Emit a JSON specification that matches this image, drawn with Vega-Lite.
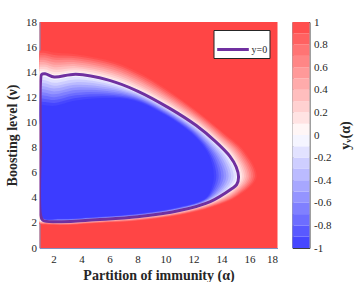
{
 "$schema": "https://vega.github.io/schema/vega-lite/v6.json",
 "background": "white",
 "padding": {"left": 5.5, "top": 15, "right": 5, "bottom": 5},
 "autosize": {"type": "pad"},
 "config": {
  "font": "Liberation Serif",
  "view": {"stroke": null},
  "axis": {"labelFont": "Liberation Serif", "labelFontSize": 11, "labelColor": "#262626", "titleFont": "Liberation Serif", "titleFontSize": 14, "titleFontWeight": "bold", "titleColor": "#262626", "grid": false, "ticks": false, "domainColor": "#8090c0"},
  "legend": {"labelFont": "Liberation Serif", "titleFont": "Liberation Serif"}
 },
 "spacing": 14,
 "resolve": {"scale": {"stroke": "independent"}, "legend": {"stroke": "independent"}},
 "datasets": {
  "poly": [
   {"g":"o10","lev":0.95,"i":0,"a":0.8,"n":1.9},{"g":"o10","lev":0.95,"i":1,"a":2.5,"n":1.82},{"g":"o10","lev":0.95,"i":2,"a":5,"n":1.97},{"g":"o10","lev":0.95,"i":3,"a":8,"n":2.18},{"g":"o10","lev":0.95,"i":4,"a":11.08,"n":2.63},{"g":"o10","lev":0.95,"i":5,"a":13.38,"n":3.27},{"g":"o10","lev":0.95,"i":6,"a":15.2,"n":4.14},{"g":"o10","lev":0.95,"i":7,"a":16.51,"n":5.65},{"g":"o10","lev":0.95,"i":8,"a":15.58,"n":7.79},{"g":"o10","lev":0.95,"i":9,"a":14.23,"n":9.1},{"g":"o10","lev":0.95,"i":10,"a":12.7,"n":10.52},{"g":"o10","lev":0.95,"i":11,"a":10.8,"n":12.09},{"g":"o10","lev":0.95,"i":12,"a":8.51,"n":13.73},{"g":"o10","lev":0.95,"i":13,"a":6.39,"n":14.8},{"g":"o10","lev":0.95,"i":14,"a":3.6,"n":15.44},{"g":"o10","lev":0.95,"i":15,"a":2.05,"n":15.57},{"g":"o10","lev":0.95,"i":16,"a":1.4,"n":15.72},{"g":"o10","lev":0.95,"i":17,"a":0.8,"n":15.72},
   {"g":"o9","lev":0.85,"i":0,"a":0.8,"n":1.93},{"g":"o9","lev":0.85,"i":1,"a":2.5,"n":1.85},{"g":"o9","lev":0.85,"i":2,"a":5,"n":2.0},{"g":"o9","lev":0.85,"i":3,"a":8,"n":2.21},{"g":"o9","lev":0.85,"i":4,"a":11.07,"n":2.67},{"g":"o9","lev":0.85,"i":5,"a":13.36,"n":3.32},{"g":"o9","lev":0.85,"i":6,"a":15.15,"n":4.2},{"g":"o9","lev":0.85,"i":7,"a":16.38,"n":5.65},{"g":"o9","lev":0.85,"i":8,"a":15.48,"n":7.74},{"g":"o9","lev":0.85,"i":9,"a":14.17,"n":9.04},{"g":"o9","lev":0.85,"i":10,"a":12.65,"n":10.45},{"g":"o9","lev":0.85,"i":11,"a":10.75,"n":12.0},{"g":"o9","lev":0.85,"i":12,"a":8.46,"n":13.61},{"g":"o9","lev":0.85,"i":13,"a":6.35,"n":14.66},{"g":"o9","lev":0.85,"i":14,"a":3.6,"n":15.28},{"g":"o9","lev":0.85,"i":15,"a":2.05,"n":15.38},{"g":"o9","lev":0.85,"i":16,"a":1.4,"n":15.54},{"g":"o9","lev":0.85,"i":17,"a":0.8,"n":15.54},
   {"g":"o8","lev":0.75,"i":0,"a":0.8,"n":1.96},{"g":"o8","lev":0.75,"i":1,"a":2.5,"n":1.88},{"g":"o8","lev":0.75,"i":2,"a":5,"n":2.03},{"g":"o8","lev":0.75,"i":3,"a":8,"n":2.24},{"g":"o8","lev":0.75,"i":4,"a":11.06,"n":2.7},{"g":"o8","lev":0.75,"i":5,"a":13.34,"n":3.36},{"g":"o8","lev":0.75,"i":6,"a":15.1,"n":4.25},{"g":"o8","lev":0.75,"i":7,"a":16.25,"n":5.65},{"g":"o8","lev":0.75,"i":8,"a":15.38,"n":7.69},{"g":"o8","lev":0.75,"i":9,"a":14.1,"n":8.97},{"g":"o8","lev":0.75,"i":10,"a":12.6,"n":10.37},{"g":"o8","lev":0.75,"i":11,"a":10.7,"n":11.9},{"g":"o8","lev":0.75,"i":12,"a":8.41,"n":13.48},{"g":"o8","lev":0.75,"i":13,"a":6.31,"n":14.51},{"g":"o8","lev":0.75,"i":14,"a":3.6,"n":15.12},{"g":"o8","lev":0.75,"i":15,"a":2.05,"n":15.18},{"g":"o8","lev":0.75,"i":16,"a":1.4,"n":15.35},{"g":"o8","lev":0.75,"i":17,"a":0.8,"n":15.35},
   {"g":"o7","lev":0.65,"i":0,"a":0.8,"n":1.99},{"g":"o7","lev":0.65,"i":1,"a":2.5,"n":1.91},{"g":"o7","lev":0.65,"i":2,"a":5,"n":2.06},{"g":"o7","lev":0.65,"i":3,"a":8,"n":2.27},{"g":"o7","lev":0.65,"i":4,"a":11.06,"n":2.74},{"g":"o7","lev":0.65,"i":5,"a":13.33,"n":3.4},{"g":"o7","lev":0.65,"i":6,"a":15.05,"n":4.31},{"g":"o7","lev":0.65,"i":7,"a":16.12,"n":5.65},{"g":"o7","lev":0.65,"i":8,"a":15.29,"n":7.64},{"g":"o7","lev":0.65,"i":9,"a":14.04,"n":8.91},{"g":"o7","lev":0.65,"i":10,"a":12.55,"n":10.29},{"g":"o7","lev":0.65,"i":11,"a":10.65,"n":11.8},{"g":"o7","lev":0.65,"i":12,"a":8.36,"n":13.36},{"g":"o7","lev":0.65,"i":13,"a":6.27,"n":14.37},{"g":"o7","lev":0.65,"i":14,"a":3.6,"n":14.96},{"g":"o7","lev":0.65,"i":15,"a":2.05,"n":14.99},{"g":"o7","lev":0.65,"i":16,"a":1.4,"n":15.17},{"g":"o7","lev":0.65,"i":17,"a":0.8,"n":15.17},
   {"g":"o6","lev":0.55,"i":0,"a":0.8,"n":2.02},{"g":"o6","lev":0.55,"i":1,"a":2.5,"n":1.93},{"g":"o6","lev":0.55,"i":2,"a":5,"n":2.08},{"g":"o6","lev":0.55,"i":3,"a":8,"n":2.3},{"g":"o6","lev":0.55,"i":4,"a":11.05,"n":2.77},{"g":"o6","lev":0.55,"i":5,"a":13.31,"n":3.44},{"g":"o6","lev":0.55,"i":6,"a":15.0,"n":4.36},{"g":"o6","lev":0.55,"i":7,"a":15.99,"n":5.65},{"g":"o6","lev":0.55,"i":8,"a":15.19,"n":7.59},{"g":"o6","lev":0.55,"i":9,"a":13.98,"n":8.84},{"g":"o6","lev":0.55,"i":10,"a":12.5,"n":10.21},{"g":"o6","lev":0.55,"i":11,"a":10.6,"n":11.7},{"g":"o6","lev":0.55,"i":12,"a":8.31,"n":13.24},{"g":"o6","lev":0.55,"i":13,"a":6.23,"n":14.22},{"g":"o6","lev":0.55,"i":14,"a":3.6,"n":14.8},{"g":"o6","lev":0.55,"i":15,"a":2.05,"n":14.79},{"g":"o6","lev":0.55,"i":16,"a":1.4,"n":14.98},{"g":"o6","lev":0.55,"i":17,"a":0.8,"n":14.98},
   {"g":"o5","lev":0.45,"i":0,"a":0.8,"n":2.05},{"g":"o5","lev":0.45,"i":1,"a":2.5,"n":1.96},{"g":"o5","lev":0.45,"i":2,"a":5,"n":2.11},{"g":"o5","lev":0.45,"i":3,"a":8,"n":2.33},{"g":"o5","lev":0.45,"i":4,"a":11.04,"n":2.81},{"g":"o5","lev":0.45,"i":5,"a":13.29,"n":3.49},{"g":"o5","lev":0.45,"i":6,"a":14.95,"n":4.42},{"g":"o5","lev":0.45,"i":7,"a":15.87,"n":5.65},{"g":"o5","lev":0.45,"i":8,"a":15.09,"n":7.55},{"g":"o5","lev":0.45,"i":9,"a":13.92,"n":8.78},{"g":"o5","lev":0.45,"i":10,"a":12.45,"n":10.14},{"g":"o5","lev":0.45,"i":11,"a":10.55,"n":11.61},{"g":"o5","lev":0.45,"i":12,"a":8.26,"n":13.12},{"g":"o5","lev":0.45,"i":13,"a":6.2,"n":14.08},{"g":"o5","lev":0.45,"i":14,"a":3.6,"n":14.64},{"g":"o5","lev":0.45,"i":15,"a":2.05,"n":14.6},{"g":"o5","lev":0.45,"i":16,"a":1.4,"n":14.8},{"g":"o5","lev":0.45,"i":17,"a":0.8,"n":14.8},
   {"g":"o4","lev":0.35,"i":0,"a":0.8,"n":2.08},{"g":"o4","lev":0.35,"i":1,"a":2.5,"n":1.99},{"g":"o4","lev":0.35,"i":2,"a":5,"n":2.14},{"g":"o4","lev":0.35,"i":3,"a":8,"n":2.36},{"g":"o4","lev":0.35,"i":4,"a":11.03,"n":2.84},{"g":"o4","lev":0.35,"i":5,"a":13.27,"n":3.53},{"g":"o4","lev":0.35,"i":6,"a":14.9,"n":4.48},{"g":"o4","lev":0.35,"i":7,"a":15.74,"n":5.65},{"g":"o4","lev":0.35,"i":8,"a":14.99,"n":7.5},{"g":"o4","lev":0.35,"i":9,"a":13.85,"n":8.71},{"g":"o4","lev":0.35,"i":10,"a":12.4,"n":10.06},{"g":"o4","lev":0.35,"i":11,"a":10.5,"n":11.51},{"g":"o4","lev":0.35,"i":12,"a":8.2,"n":12.99},{"g":"o4","lev":0.35,"i":13,"a":6.16,"n":13.93},{"g":"o4","lev":0.35,"i":14,"a":3.6,"n":14.48},{"g":"o4","lev":0.35,"i":15,"a":2.05,"n":14.4},{"g":"o4","lev":0.35,"i":16,"a":1.4,"n":14.61},{"g":"o4","lev":0.35,"i":17,"a":0.8,"n":14.61},
   {"g":"o3","lev":0.25,"i":0,"a":0.8,"n":2.11},{"g":"o3","lev":0.25,"i":1,"a":2.5,"n":2.02},{"g":"o3","lev":0.25,"i":2,"a":5,"n":2.17},{"g":"o3","lev":0.25,"i":3,"a":8,"n":2.39},{"g":"o3","lev":0.25,"i":4,"a":11.03,"n":2.88},{"g":"o3","lev":0.25,"i":5,"a":13.26,"n":3.57},{"g":"o3","lev":0.25,"i":6,"a":14.85,"n":4.54},{"g":"o3","lev":0.25,"i":7,"a":15.61,"n":5.65},{"g":"o3","lev":0.25,"i":8,"a":14.9,"n":7.45},{"g":"o3","lev":0.25,"i":9,"a":13.79,"n":8.65},{"g":"o3","lev":0.25,"i":10,"a":12.35,"n":9.98},{"g":"o3","lev":0.25,"i":11,"a":10.45,"n":11.41},{"g":"o3","lev":0.25,"i":12,"a":8.15,"n":12.87},{"g":"o3","lev":0.25,"i":13,"a":6.12,"n":13.79},{"g":"o3","lev":0.25,"i":14,"a":3.6,"n":14.32},{"g":"o3","lev":0.25,"i":15,"a":2.05,"n":14.21},{"g":"o3","lev":0.25,"i":16,"a":1.4,"n":14.43},{"g":"o3","lev":0.25,"i":17,"a":0.8,"n":14.43},
   {"g":"o2","lev":0.15,"i":0,"a":0.8,"n":2.14},{"g":"o2","lev":0.15,"i":1,"a":2.5,"n":2.04},{"g":"o2","lev":0.15,"i":2,"a":5,"n":2.19},{"g":"o2","lev":0.15,"i":3,"a":8,"n":2.42},{"g":"o2","lev":0.15,"i":4,"a":11.02,"n":2.91},{"g":"o2","lev":0.15,"i":5,"a":13.24,"n":3.61},{"g":"o2","lev":0.15,"i":6,"a":14.8,"n":4.59},{"g":"o2","lev":0.15,"i":7,"a":15.48,"n":5.65},{"g":"o2","lev":0.15,"i":8,"a":14.8,"n":7.4},{"g":"o2","lev":0.15,"i":9,"a":13.73,"n":8.58},{"g":"o2","lev":0.15,"i":10,"a":12.3,"n":9.9},{"g":"o2","lev":0.15,"i":11,"a":10.4,"n":11.31},{"g":"o2","lev":0.15,"i":12,"a":8.1,"n":12.75},{"g":"o2","lev":0.15,"i":13,"a":6.08,"n":13.64},{"g":"o2","lev":0.15,"i":14,"a":3.6,"n":14.16},{"g":"o2","lev":0.15,"i":15,"a":2.05,"n":14.01},{"g":"o2","lev":0.15,"i":16,"a":1.4,"n":14.24},{"g":"o2","lev":0.15,"i":17,"a":0.8,"n":14.24},
   {"g":"o1","lev":0.05,"i":0,"a":0.8,"n":2.17},{"g":"o1","lev":0.05,"i":1,"a":2.5,"n":2.07},{"g":"o1","lev":0.05,"i":2,"a":5,"n":2.22},{"g":"o1","lev":0.05,"i":3,"a":8,"n":2.45},{"g":"o1","lev":0.05,"i":4,"a":11.01,"n":2.95},{"g":"o1","lev":0.05,"i":5,"a":13.22,"n":3.66},{"g":"o1","lev":0.05,"i":6,"a":14.75,"n":4.65},{"g":"o1","lev":0.05,"i":7,"a":15.35,"n":5.65},{"g":"o1","lev":0.05,"i":8,"a":14.7,"n":7.35},{"g":"o1","lev":0.05,"i":9,"a":13.67,"n":8.52},{"g":"o1","lev":0.05,"i":10,"a":12.25,"n":9.83},{"g":"o1","lev":0.05,"i":11,"a":10.35,"n":11.22},{"g":"o1","lev":0.05,"i":12,"a":8.05,"n":12.63},{"g":"o1","lev":0.05,"i":13,"a":6.04,"n":13.5},{"g":"o1","lev":0.05,"i":14,"a":3.6,"n":14.0},{"g":"o1","lev":0.05,"i":15,"a":2.05,"n":13.82},{"g":"o1","lev":0.05,"i":16,"a":1.4,"n":14.06},{"g":"o1","lev":0.05,"i":17,"a":0.8,"n":14.06},
   {"g":"b","lev":-0.05,"i":0,"a":1.08,"n":8},{"g":"b","lev":-0.05,"i":1,"a":1.08,"n":2.6},{"g":"b","lev":-0.05,"i":2,"a":1.25,"n":2.2},{"g":"b","lev":-0.05,"i":3,"a":2.5,"n":2.1},{"g":"b","lev":-0.05,"i":4,"a":5,"n":2.25},{"g":"b","lev":-0.05,"i":5,"a":8,"n":2.48},{"g":"b","lev":-0.05,"i":6,"a":11,"n":2.98},{"g":"b","lev":-0.05,"i":7,"a":13.2,"n":3.7},{"g":"b","lev":-0.05,"i":8,"a":14.7,"n":4.7},{"g":"b","lev":-0.05,"i":9,"a":15.08,"n":5.05},{"g":"b","lev":-0.05,"i":10,"a":15.22,"n":5.65},{"g":"b","lev":-0.05,"i":11,"a":15.05,"n":6.45},{"g":"b","lev":-0.05,"i":12,"a":14.6,"n":7.3},{"g":"b","lev":-0.05,"i":13,"a":13.6,"n":8.45},{"g":"b","lev":-0.05,"i":14,"a":12.2,"n":9.75},{"g":"b","lev":-0.05,"i":15,"a":10.3,"n":11.12},{"g":"b","lev":-0.05,"i":16,"a":8,"n":12.5},{"g":"b","lev":-0.05,"i":17,"a":6,"n":13.35},{"g":"b","lev":-0.05,"i":18,"a":3.6,"n":13.84},{"g":"b","lev":-0.05,"i":19,"a":2.05,"n":13.62},{"g":"b","lev":-0.05,"i":20,"a":1.4,"n":13.87},{"g":"b","lev":-0.05,"i":21,"a":1.15,"n":13.82},{"g":"b","lev":-0.05,"i":22,"a":1.08,"n":13.4},{"g":"b","lev":-0.05,"i":23,"a":1.08,"n":8},
   {"g":"i1","lev":-0.15,"i":0,"a":1.13,"n":8},{"g":"i1","lev":-0.15,"i":1,"a":1.13,"n":2.61},{"g":"i1","lev":-0.15,"i":2,"a":1.28,"n":2.22},{"g":"i1","lev":-0.15,"i":3,"a":2.5,"n":2.12},{"g":"i1","lev":-0.15,"i":4,"a":5,"n":2.27},{"g":"i1","lev":-0.15,"i":5,"a":8,"n":2.51},{"g":"i1","lev":-0.15,"i":6,"a":11.0,"n":3.01},{"g":"i1","lev":-0.15,"i":7,"a":13.17,"n":3.73},{"g":"i1","lev":-0.15,"i":8,"a":14.57,"n":4.73},{"g":"i1","lev":-0.15,"i":9,"a":15.05,"n":5.67},{"g":"i1","lev":-0.15,"i":10,"a":14.47,"n":7.25},{"g":"i1","lev":-0.15,"i":11,"a":13.53,"n":8.39},{"g":"i1","lev":-0.15,"i":12,"a":12.16,"n":9.69},{"g":"i1","lev":-0.15,"i":13,"a":10.27,"n":11.07},{"g":"i1","lev":-0.15,"i":14,"a":7.98,"n":12.43},{"g":"i1","lev":-0.15,"i":15,"a":5.97,"n":13.21},{"g":"i1","lev":-0.15,"i":16,"a":3.6,"n":13.63},{"g":"i1","lev":-0.15,"i":17,"a":2.05,"n":13.39},{"g":"i1","lev":-0.15,"i":18,"a":1.4,"n":13.62},{"g":"i1","lev":-0.15,"i":19,"a":1.13,"n":13.62},{"g":"i1","lev":-0.15,"i":20,"a":1.13,"n":8},
   {"g":"i2","lev":-0.25,"i":0,"a":1.13,"n":8},{"g":"i2","lev":-0.25,"i":1,"a":1.13,"n":2.62},{"g":"i2","lev":-0.25,"i":2,"a":1.3,"n":2.23},{"g":"i2","lev":-0.25,"i":3,"a":2.5,"n":2.14},{"g":"i2","lev":-0.25,"i":4,"a":5,"n":2.29},{"g":"i2","lev":-0.25,"i":5,"a":8,"n":2.53},{"g":"i2","lev":-0.25,"i":6,"a":10.99,"n":3.04},{"g":"i2","lev":-0.25,"i":7,"a":13.14,"n":3.76},{"g":"i2","lev":-0.25,"i":8,"a":14.43,"n":4.76},{"g":"i2","lev":-0.25,"i":9,"a":14.87,"n":5.68},{"g":"i2","lev":-0.25,"i":10,"a":14.34,"n":7.2},{"g":"i2","lev":-0.25,"i":11,"a":13.46,"n":8.32},{"g":"i2","lev":-0.25,"i":12,"a":12.12,"n":9.63},{"g":"i2","lev":-0.25,"i":13,"a":10.24,"n":11.01},{"g":"i2","lev":-0.25,"i":14,"a":7.95,"n":12.35},{"g":"i2","lev":-0.25,"i":15,"a":5.94,"n":13.07},{"g":"i2","lev":-0.25,"i":16,"a":3.6,"n":13.42},{"g":"i2","lev":-0.25,"i":17,"a":2.05,"n":13.16},{"g":"i2","lev":-0.25,"i":18,"a":1.4,"n":13.37},{"g":"i2","lev":-0.25,"i":19,"a":1.13,"n":13.37},{"g":"i2","lev":-0.25,"i":20,"a":1.13,"n":8},
   {"g":"i3","lev":-0.35,"i":0,"a":1.13,"n":8},{"g":"i3","lev":-0.35,"i":1,"a":1.13,"n":2.63},{"g":"i3","lev":-0.35,"i":2,"a":1.3,"n":2.25},{"g":"i3","lev":-0.35,"i":3,"a":2.5,"n":2.17},{"g":"i3","lev":-0.35,"i":4,"a":5,"n":2.32},{"g":"i3","lev":-0.35,"i":5,"a":8,"n":2.56},{"g":"i3","lev":-0.35,"i":6,"a":10.99,"n":3.07},{"g":"i3","lev":-0.35,"i":7,"a":13.11,"n":3.79},{"g":"i3","lev":-0.35,"i":8,"a":14.3,"n":4.79},{"g":"i3","lev":-0.35,"i":9,"a":14.69,"n":5.7},{"g":"i3","lev":-0.35,"i":10,"a":14.21,"n":7.15},{"g":"i3","lev":-0.35,"i":11,"a":13.39,"n":8.26},{"g":"i3","lev":-0.35,"i":12,"a":12.09,"n":9.58},{"g":"i3","lev":-0.35,"i":13,"a":10.21,"n":10.96},{"g":"i3","lev":-0.35,"i":14,"a":7.92,"n":12.28},{"g":"i3","lev":-0.35,"i":15,"a":5.91,"n":12.93},{"g":"i3","lev":-0.35,"i":16,"a":3.6,"n":13.21},{"g":"i3","lev":-0.35,"i":17,"a":2.05,"n":12.93},{"g":"i3","lev":-0.35,"i":18,"a":1.4,"n":13.12},{"g":"i3","lev":-0.35,"i":19,"a":1.13,"n":13.12},{"g":"i3","lev":-0.35,"i":20,"a":1.13,"n":8},
   {"g":"i4","lev":-0.45,"i":0,"a":1.13,"n":8},{"g":"i4","lev":-0.45,"i":1,"a":1.13,"n":2.64},{"g":"i4","lev":-0.45,"i":2,"a":1.3,"n":2.26},{"g":"i4","lev":-0.45,"i":3,"a":2.5,"n":2.19},{"g":"i4","lev":-0.45,"i":4,"a":5,"n":2.34},{"g":"i4","lev":-0.45,"i":5,"a":8,"n":2.58},{"g":"i4","lev":-0.45,"i":6,"a":10.99,"n":3.09},{"g":"i4","lev":-0.45,"i":7,"a":13.08,"n":3.82},{"g":"i4","lev":-0.45,"i":8,"a":14.16,"n":4.82},{"g":"i4","lev":-0.45,"i":9,"a":14.51,"n":5.71},{"g":"i4","lev":-0.45,"i":10,"a":14.08,"n":7.1},{"g":"i4","lev":-0.45,"i":11,"a":13.32,"n":8.19},{"g":"i4","lev":-0.45,"i":12,"a":12.05,"n":9.52},{"g":"i4","lev":-0.45,"i":13,"a":10.18,"n":10.9},{"g":"i4","lev":-0.45,"i":14,"a":7.89,"n":12.2},{"g":"i4","lev":-0.45,"i":15,"a":5.88,"n":12.79},{"g":"i4","lev":-0.45,"i":16,"a":3.6,"n":13.0},{"g":"i4","lev":-0.45,"i":17,"a":2.05,"n":12.7},{"g":"i4","lev":-0.45,"i":18,"a":1.4,"n":12.87},{"g":"i4","lev":-0.45,"i":19,"a":1.13,"n":12.87},{"g":"i4","lev":-0.45,"i":20,"a":1.13,"n":8},
   {"g":"i5","lev":-0.55,"i":0,"a":1.13,"n":8},{"g":"i5","lev":-0.55,"i":1,"a":1.13,"n":2.65},{"g":"i5","lev":-0.55,"i":2,"a":1.3,"n":2.28},{"g":"i5","lev":-0.55,"i":3,"a":2.5,"n":2.21},{"g":"i5","lev":-0.55,"i":4,"a":5,"n":2.36},{"g":"i5","lev":-0.55,"i":5,"a":8,"n":2.61},{"g":"i5","lev":-0.55,"i":6,"a":10.99,"n":3.12},{"g":"i5","lev":-0.55,"i":7,"a":13.05,"n":3.85},{"g":"i5","lev":-0.55,"i":8,"a":14.03,"n":4.85},{"g":"i5","lev":-0.55,"i":9,"a":14.34,"n":5.73},{"g":"i5","lev":-0.55,"i":10,"a":13.95,"n":7.05},{"g":"i5","lev":-0.55,"i":11,"a":13.25,"n":8.13},{"g":"i5","lev":-0.55,"i":12,"a":12.01,"n":9.46},{"g":"i5","lev":-0.55,"i":13,"a":10.16,"n":10.85},{"g":"i5","lev":-0.55,"i":14,"a":7.87,"n":12.13},{"g":"i5","lev":-0.55,"i":15,"a":5.86,"n":12.65},{"g":"i5","lev":-0.55,"i":16,"a":3.6,"n":12.79},{"g":"i5","lev":-0.55,"i":17,"a":2.05,"n":12.47},{"g":"i5","lev":-0.55,"i":18,"a":1.4,"n":12.62},{"g":"i5","lev":-0.55,"i":19,"a":1.13,"n":12.62},{"g":"i5","lev":-0.55,"i":20,"a":1.13,"n":8},
   {"g":"i6","lev":-0.65,"i":0,"a":1.13,"n":8},{"g":"i6","lev":-0.65,"i":1,"a":1.13,"n":2.66},{"g":"i6","lev":-0.65,"i":2,"a":1.3,"n":2.29},{"g":"i6","lev":-0.65,"i":3,"a":2.5,"n":2.23},{"g":"i6","lev":-0.65,"i":4,"a":5,"n":2.38},{"g":"i6","lev":-0.65,"i":5,"a":8,"n":2.63},{"g":"i6","lev":-0.65,"i":6,"a":10.98,"n":3.15},{"g":"i6","lev":-0.65,"i":7,"a":13.02,"n":3.88},{"g":"i6","lev":-0.65,"i":8,"a":13.89,"n":4.88},{"g":"i6","lev":-0.65,"i":9,"a":14.16,"n":5.74},{"g":"i6","lev":-0.65,"i":10,"a":13.82,"n":7.0},{"g":"i6","lev":-0.65,"i":11,"a":13.18,"n":8.06},{"g":"i6","lev":-0.65,"i":12,"a":11.97,"n":9.4},{"g":"i6","lev":-0.65,"i":13,"a":10.13,"n":10.79},{"g":"i6","lev":-0.65,"i":14,"a":7.84,"n":12.05},{"g":"i6","lev":-0.65,"i":15,"a":5.83,"n":12.51},{"g":"i6","lev":-0.65,"i":16,"a":3.6,"n":12.58},{"g":"i6","lev":-0.65,"i":17,"a":2.05,"n":12.24},{"g":"i6","lev":-0.65,"i":18,"a":1.4,"n":12.37},{"g":"i6","lev":-0.65,"i":19,"a":1.13,"n":12.37},{"g":"i6","lev":-0.65,"i":20,"a":1.13,"n":8},
   {"g":"i7","lev":-0.75,"i":0,"a":1.13,"n":8},{"g":"i7","lev":-0.75,"i":1,"a":1.13,"n":2.67},{"g":"i7","lev":-0.75,"i":2,"a":1.3,"n":2.31},{"g":"i7","lev":-0.75,"i":3,"a":2.5,"n":2.26},{"g":"i7","lev":-0.75,"i":4,"a":5,"n":2.41},{"g":"i7","lev":-0.75,"i":5,"a":8,"n":2.66},{"g":"i7","lev":-0.75,"i":6,"a":10.98,"n":3.18},{"g":"i7","lev":-0.75,"i":7,"a":12.99,"n":3.91},{"g":"i7","lev":-0.75,"i":8,"a":13.76,"n":4.91},{"g":"i7","lev":-0.75,"i":9,"a":13.98,"n":5.76},{"g":"i7","lev":-0.75,"i":10,"a":13.69,"n":6.95},{"g":"i7","lev":-0.75,"i":11,"a":13.11,"n":8.0},{"g":"i7","lev":-0.75,"i":12,"a":11.94,"n":9.35},{"g":"i7","lev":-0.75,"i":13,"a":10.1,"n":10.74},{"g":"i7","lev":-0.75,"i":14,"a":7.81,"n":11.98},{"g":"i7","lev":-0.75,"i":15,"a":5.8,"n":12.37},{"g":"i7","lev":-0.75,"i":16,"a":3.6,"n":12.37},{"g":"i7","lev":-0.75,"i":17,"a":2.05,"n":12.01},{"g":"i7","lev":-0.75,"i":18,"a":1.4,"n":12.12},{"g":"i7","lev":-0.75,"i":19,"a":1.13,"n":12.12},{"g":"i7","lev":-0.75,"i":20,"a":1.13,"n":8},
   {"g":"i8","lev":-0.85,"i":0,"a":1.13,"n":8},{"g":"i8","lev":-0.85,"i":1,"a":1.13,"n":2.68},{"g":"i8","lev":-0.85,"i":2,"a":1.3,"n":2.32},{"g":"i8","lev":-0.85,"i":3,"a":2.5,"n":2.28},{"g":"i8","lev":-0.85,"i":4,"a":5,"n":2.43},{"g":"i8","lev":-0.85,"i":5,"a":8,"n":2.68},{"g":"i8","lev":-0.85,"i":6,"a":10.98,"n":3.2},{"g":"i8","lev":-0.85,"i":7,"a":12.96,"n":3.94},{"g":"i8","lev":-0.85,"i":8,"a":13.62,"n":4.94},{"g":"i8","lev":-0.85,"i":9,"a":13.8,"n":5.77},{"g":"i8","lev":-0.85,"i":10,"a":13.56,"n":6.9},{"g":"i8","lev":-0.85,"i":11,"a":13.04,"n":7.93},{"g":"i8","lev":-0.85,"i":12,"a":11.9,"n":9.29},{"g":"i8","lev":-0.85,"i":13,"a":10.07,"n":10.68},{"g":"i8","lev":-0.85,"i":14,"a":7.78,"n":11.9},{"g":"i8","lev":-0.85,"i":15,"a":5.77,"n":12.23},{"g":"i8","lev":-0.85,"i":16,"a":3.6,"n":12.16},{"g":"i8","lev":-0.85,"i":17,"a":2.05,"n":11.78},{"g":"i8","lev":-0.85,"i":18,"a":1.4,"n":11.87},{"g":"i8","lev":-0.85,"i":19,"a":1.13,"n":11.87},{"g":"i8","lev":-0.85,"i":20,"a":1.13,"n":8},
   {"g":"i9","lev":-0.95,"i":0,"a":1.13,"n":8},{"g":"i9","lev":-0.95,"i":1,"a":1.13,"n":2.69},{"g":"i9","lev":-0.95,"i":2,"a":1.3,"n":2.34},{"g":"i9","lev":-0.95,"i":3,"a":2.5,"n":2.3},{"g":"i9","lev":-0.95,"i":4,"a":5,"n":2.45},{"g":"i9","lev":-0.95,"i":5,"a":8,"n":2.71},{"g":"i9","lev":-0.95,"i":6,"a":10.98,"n":3.23},{"g":"i9","lev":-0.95,"i":7,"a":12.93,"n":3.97},{"g":"i9","lev":-0.95,"i":8,"a":13.49,"n":4.97},{"g":"i9","lev":-0.95,"i":9,"a":13.63,"n":5.79},{"g":"i9","lev":-0.95,"i":10,"a":13.43,"n":6.85},{"g":"i9","lev":-0.95,"i":11,"a":12.97,"n":7.87},{"g":"i9","lev":-0.95,"i":12,"a":11.86,"n":9.23},{"g":"i9","lev":-0.95,"i":13,"a":10.04,"n":10.63},{"g":"i9","lev":-0.95,"i":14,"a":7.76,"n":11.83},{"g":"i9","lev":-0.95,"i":15,"a":5.74,"n":12.09},{"g":"i9","lev":-0.95,"i":16,"a":3.6,"n":11.95},{"g":"i9","lev":-0.95,"i":17,"a":2.05,"n":11.55},{"g":"i9","lev":-0.95,"i":18,"a":1.4,"n":11.62},{"g":"i9","lev":-0.95,"i":19,"a":1.13,"n":11.62},{"g":"i9","lev":-0.95,"i":20,"a":1.13,"n":8},
   {"g":"i10","lev":-1,"i":0,"a":1.13,"n":8},{"g":"i10","lev":-1,"i":1,"a":1.13,"n":2.7},{"g":"i10","lev":-1,"i":2,"a":1.3,"n":2.35},{"g":"i10","lev":-1,"i":3,"a":2.5,"n":2.32},{"g":"i10","lev":-1,"i":4,"a":5,"n":2.47},{"g":"i10","lev":-1,"i":5,"a":8,"n":2.73},{"g":"i10","lev":-1,"i":6,"a":10.97,"n":3.26},{"g":"i10","lev":-1,"i":7,"a":12.9,"n":4.0},{"g":"i10","lev":-1,"i":8,"a":13.35,"n":5.0},{"g":"i10","lev":-1,"i":9,"a":13.45,"n":5.8},{"g":"i10","lev":-1,"i":10,"a":13.3,"n":6.8},{"g":"i10","lev":-1,"i":11,"a":12.9,"n":7.8},{"g":"i10","lev":-1,"i":12,"a":11.82,"n":9.17},{"g":"i10","lev":-1,"i":13,"a":10.01,"n":10.57},{"g":"i10","lev":-1,"i":14,"a":7.73,"n":11.75},{"g":"i10","lev":-1,"i":15,"a":5.71,"n":11.95},{"g":"i10","lev":-1,"i":16,"a":3.6,"n":11.74},{"g":"i10","lev":-1,"i":17,"a":2.05,"n":11.32},{"g":"i10","lev":-1,"i":18,"a":1.4,"n":11.37},{"g":"i10","lev":-1,"i":19,"a":1.13,"n":11.37},{"g":"i10","lev":-1,"i":20,"a":1.13,"n":8}
  ],
  "cbar": [
   {"lo":-1,"hi":-0.9,"v":-0.95},{"lo":-0.9,"hi":-0.8,"v":-0.85},{"lo":-0.8,"hi":-0.7,"v":-0.75},{"lo":-0.7,"hi":-0.6,"v":-0.65},{"lo":-0.6,"hi":-0.5,"v":-0.55},{"lo":-0.5,"hi":-0.4,"v":-0.45},{"lo":-0.4,"hi":-0.3,"v":-0.35},{"lo":-0.3,"hi":-0.2,"v":-0.25},{"lo":-0.2,"hi":-0.1,"v":-0.15},{"lo":-0.1,"hi":0,"v":-0.05},
   {"lo":0,"hi":0.1,"v":0.05},{"lo":0.1,"hi":0.2,"v":0.15},{"lo":0.2,"hi":0.3,"v":0.25},{"lo":0.3,"hi":0.4,"v":0.35},{"lo":0.4,"hi":0.5,"v":0.45},{"lo":0.5,"hi":0.6,"v":0.55},{"lo":0.6,"hi":0.7,"v":0.65},{"lo":0.7,"hi":0.8,"v":0.75},{"lo":0.8,"hi":0.9,"v":0.85},{"lo":0.9,"hi":1,"v":0.95}
  ]
 },
 "hconcat": [
  {
   "width": 238, "height": 226,
   "view": {"fill": "#ff4545", "stroke": null},
   "data": {"name": "poly"},
   "encoding": {
    "x": {"field": "a", "type": "quantitative", "scale": {"domain": [1, 18], "nice": false, "zero": false}, "axis": {"values": [2,4,6,8,10,12,14,16,18], "title": "Partition of immunity (α)", "labelFont": "Liberation Serif", "titleFont": "Liberation Serif", "labelPadding": 5, "titlePadding": 4}},
    "y": {"field": "n", "type": "quantitative", "scale": {"domain": [0, 18], "nice": false}, "axis": {"values": [0,2,4,6,8,10,12,14,16,18], "title": "Boosting level (ν)", "labelFont": "Liberation Serif", "titleFont": "Liberation Serif", "labelPadding": 3, "titlePadding": 6}},
    "order": {"field": "i", "type": "quantitative"},
    "color": {"field": "lev", "type": "quantitative", "scale": {"domain": [-1, 0, 1], "range": ["#3c3cff", "#ffffff", "#ff4545"], "interpolate": "rgb"}, "legend": null}
   },
   "layer": [
    {"transform": [{"filter": "datum.g == 'o10'"}], "mark": {"type": "line", "filled": true, "interpolate": "catmull-rom", "clip": true}},
    {"transform": [{"filter": "datum.g == 'o9'"}], "mark": {"type": "line", "filled": true, "interpolate": "catmull-rom", "clip": true}},
    {"transform": [{"filter": "datum.g == 'o8'"}], "mark": {"type": "line", "filled": true, "interpolate": "catmull-rom", "clip": true}},
    {"transform": [{"filter": "datum.g == 'o7'"}], "mark": {"type": "line", "filled": true, "interpolate": "catmull-rom", "clip": true}},
    {"transform": [{"filter": "datum.g == 'o6'"}], "mark": {"type": "line", "filled": true, "interpolate": "catmull-rom", "clip": true}},
    {"transform": [{"filter": "datum.g == 'o5'"}], "mark": {"type": "line", "filled": true, "interpolate": "catmull-rom", "clip": true}},
    {"transform": [{"filter": "datum.g == 'o4'"}], "mark": {"type": "line", "filled": true, "interpolate": "catmull-rom", "clip": true}},
    {"transform": [{"filter": "datum.g == 'o3'"}], "mark": {"type": "line", "filled": true, "interpolate": "catmull-rom", "clip": true}},
    {"transform": [{"filter": "datum.g == 'o2'"}], "mark": {"type": "line", "filled": true, "interpolate": "catmull-rom", "clip": true}},
    {"transform": [{"filter": "datum.g == 'o1'"}], "mark": {"type": "line", "filled": true, "interpolate": "catmull-rom", "clip": true}},
    {"transform": [{"filter": "datum.g == 'b'"}], "mark": {"type": "line", "filled": true, "interpolate": "catmull-rom", "clip": true}},
    {"transform": [{"filter": "datum.g == 'i1'"}], "mark": {"type": "line", "filled": true, "interpolate": "catmull-rom", "clip": true}},
    {"transform": [{"filter": "datum.g == 'i2'"}], "mark": {"type": "line", "filled": true, "interpolate": "catmull-rom", "clip": true}},
    {"transform": [{"filter": "datum.g == 'i3'"}], "mark": {"type": "line", "filled": true, "interpolate": "catmull-rom", "clip": true}},
    {"transform": [{"filter": "datum.g == 'i4'"}], "mark": {"type": "line", "filled": true, "interpolate": "catmull-rom", "clip": true}},
    {"transform": [{"filter": "datum.g == 'i5'"}], "mark": {"type": "line", "filled": true, "interpolate": "catmull-rom", "clip": true}},
    {"transform": [{"filter": "datum.g == 'i6'"}], "mark": {"type": "line", "filled": true, "interpolate": "catmull-rom", "clip": true}},
    {"transform": [{"filter": "datum.g == 'i7'"}], "mark": {"type": "line", "filled": true, "interpolate": "catmull-rom", "clip": true}},
    {"transform": [{"filter": "datum.g == 'i8'"}], "mark": {"type": "line", "filled": true, "interpolate": "catmull-rom", "clip": true}},
    {"transform": [{"filter": "datum.g == 'i9'"}], "mark": {"type": "line", "filled": true, "interpolate": "catmull-rom", "clip": true}},
    {"transform": [{"filter": "datum.g == 'i10'"}], "mark": {"type": "line", "filled": true, "interpolate": "catmull-rom", "clip": true}},
    {"transform": [{"filter": "datum.g == 'b'"}], "mark": {"type": "line", "interpolate": "catmull-rom", "strokeWidth": 3, "clip": true},
     "encoding": {"stroke": {"datum": "y=0", "type": "nominal", "scale": {"range": ["#7030a0"]},
       "legend": {"orient": "top-right", "offset": 8, "title": null, "symbolType": "stroke", "symbolSize": 1000, "symbolStrokeWidth": 3, "labelFont": "Liberation Serif", "labelFontSize": 10, "labelColor": "#262626", "fillColor": "white", "strokeColor": "#262626", "padding": 2, "labelOffset": 1}}}}
   ]
  },
  {
   "width": 17, "height": 226,
   "view": {"stroke": "#404040"},
   "data": {"name": "cbar"},
   "mark": "rect",
   "encoding": {
    "y": {"field": "lo", "type": "quantitative", "scale": {"domain": [-1, 1], "nice": false, "zero": false},
      "axis": {"orient": "right", "values": [-1,-0.8,-0.6,-0.4,-0.2,0,0.2,0.4,0.6,0.8,1], "labelExpr": "'' + datum.value", "labelFont": "Liberation Serif", "titleFont": "Liberation Serif", "title": "yᵥ(α)", "titleAngle": 270, "titleBaseline": "top", "domain": false, "labelPadding": 4, "titlePadding": 8}},
    "y2": {"field": "hi"},
    "color": {"field": "v", "type": "quantitative", "scale": {"domain": [-1, 0, 1], "range": ["#3c3cff", "#ffffff", "#ff4545"], "interpolate": "rgb"}, "legend": null}
   }
  }
 ]
}
